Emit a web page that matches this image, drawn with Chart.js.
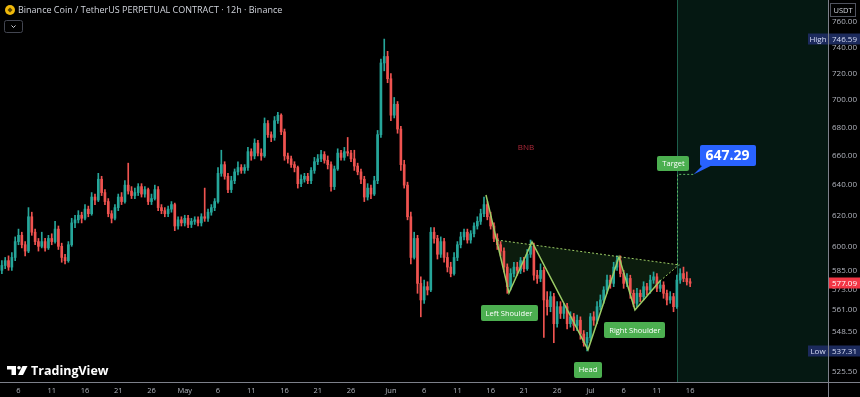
<!DOCTYPE html>
<html>
<head>
<meta charset="utf-8">
<script src="https://cdn.jsdelivr.net/npm/chart.js@4.4.1/dist/chart.umd.min.js"></script>
<style>
  html, body { margin: 0; padding: 0; background: #000; }
  canvas { display: block; }
</style>
</head>
<body>
<canvas id="chart" width="860" height="397"></canvas>
<script>
// BNB / USDT perpetual, 12h candles (3 Apr - 16 Jul)
var opens = [585,588,591,587,593,603,607,601,597,619,
  609,603,600,603,599,605,603,611,600,593,
  591,601,615,617,620,618,624,621,632,630,
  644,635,629,621,618,625,632,629,640,636,
  633,635,639,634,637,629,631,637,625,623,
  621,624,627,613,617,615,618,614,616,617,
  615,619,618,622,625,629,648,654,646,637,
  643,649,652,650,652,663,660,669,662,660,
  683,675,673,685,689,677,660,658,654,652,
  641,644,646,643,650,656,658,661,657,654,
  639,651,662,659,663,662,658,653,649,644,
  632,638,634,643,675,728,733,716,689,697,
  679,654,640,619,593,605,577,567,575,573,
  609,605,595,603,593,587,583,593,601,606,
  609,604,608,613,616,621,627,619,613,605,
  601,597,587,575,583,587,585,591,586,595,
  600,582,580,585,567,563,569,553,563,559,
  563,553,557,552,555,547,542,545,557,555,
  563,567,573,579,577,587,591,583,577,580,
  571,565,571,569,575,573,579,581,574,576,
  571,567,569,563,579,583,580,578];
var highs = [591,593,594,596,606,611,609,603,625,622,
  611,605,609,605,607,608,616,613,602,595,
  603,618,620,623,622,627,626,635,634,648,
  646,637,631,623,627,634,635,643,655,639,
  638,641,641,639,638,634,640,639,627,625,
  626,629,628,619,619,620,620,618,619,619,
  621,638,624,627,631,652,664,656,648,646,
  651,656,654,654,666,665,672,671,665,687,
  685,677,688,691,690,679,662,660,656,653,
  647,648,648,652,659,661,664,663,660,656,
  653,665,664,666,673,664,664,655,651,646,
  641,640,646,678,731,746.59,737,720,702,699,
  681,657,642,622,609,607,581,579,578,612,
  612,607,606,605,596,590,596,603,609,611,
  611,610,615,619,624,632,629,622,615,608,
  603,599,589,586,590,590,593,593,598,604,
  602,585,589,587,572,572,571,566,566,565,
  565,560,559,558,557,549,548,559,560,566,
  570,575,582,582,590,594,594,585,583,582,
  573,574,573,578,577,582,584,583,579,578,
  573,572,571,582,586,587,584,580];
var lows = [583,586,585,585,591,601,599,594,596,607,
  601,597,599,597,598,601,602,598,590,589,
  590,600,612,615,615,617,619,620,627,629,
  633,627,619,615,617,623,627,628,634,631,
  631,633,632,632,627,627,630,623,621,619,
  619,622,610,611,613,613,612,612,614,613,
  613,616,616,620,623,628,646,644,635,635,
  641,647,648,648,650,657,658,660,657,659,
  673,670,671,683,675,657,655,652,649,638,
  639,642,641,641,648,654,656,655,651,636,
  637,650,657,657,660,656,650,647,641,629,
  630,631,633,641,673,722,713,685,687,676,
  650,638,617,589,592,571,557,565,570,572,
  602,592,593,590,584,581,582,591,599,604,
  602,602,606,611,614,619,617,611,603,598,
  594,584,571,573,581,582,583,584,585,593,
  579,577,578,545,558,560,542,551,556,556,
  550,551,549,549,544,540,537.31,543,552,553,
  561,565,571,574,575,585,581,574,575,568,
  563,563,566,567,570,571,577,572,572,568,
  564,565,560,562,577,578,576,575];
var closes = [588,591,587,593,603,607,601,597,619,609,
  603,600,603,599,605,603,611,600,593,591,
  601,615,617,620,618,624,621,632,630,644,
  635,629,621,618,625,632,629,640,636,633,
  635,639,634,637,629,631,637,625,623,621,
  624,627,613,617,615,618,614,616,617,615,
  619,618,622,625,629,648,654,646,637,643,
  649,652,650,652,663,660,669,662,660,683,
  675,673,685,689,677,660,658,654,652,641,
  644,646,643,650,656,658,661,657,654,639,
  651,662,659,663,662,658,653,649,644,632,
  638,634,643,675,728,733,716,689,697,679,
  654,640,619,593,605,577,567,575,573,609,
  605,595,603,593,587,583,593,601,606,609,
  604,608,613,616,621,627,619,613,605,601,
  597,587,575,583,587,585,591,586,595,600,
  582,580,585,567,563,569,553,563,559,563,
  553,557,552,555,547,542,545,557,555,563,
  567,573,579,577,587,591,583,577,580,571,
  565,571,569,575,573,579,581,574,576,571,
  567,569,563,579,583,580,578,577.09];

// time axis is in days since 1 Apr; one candle every 12h
var firstCandleDay = 2.5;
var candleDays = closes.map(function (c, i) { return firstCandleDay + i * 0.5; });

var tickDays = [5, 10, 15, 20, 25, 30, 35, 40, 45, 50, 55, 61, 66, 71, 76, 81, 86, 91, 96, 101, 106];
var tickLabels = ['6', '11', '16', '21', '26', 'May', '6', '11', '16', '21', '26', 'Jun', '6', '11', '16', '21', '26', 'Jul', '6', '11', '16'];
var priceTicks = [525.5, 537, 548.5, 561, 573, 585, 600, 620, 640, 660, 680, 700, 720, 740, 760];

// inverse head & shoulders drawing
var patternDays = [75.3, 78.76, 82.22, 90.64, 95.3, 97.7, 101.46];
var patternPrices = [633.4, 571.2, 602.8, 538, 593.3, 561, 578.4];
var patternTailDays = [101.46, 104.3];
var patternTailPrices = [578.4, 588.3];
var necklineDays = [76.95, 104.45];
var necklinePrices = [604, 588.3];
var shoulderLabels = ['Left Shoulder', 'Head', 'Right Shoulder'];
var shoulderPoints = [1, 3, 5];

var targetDay = 104.1;
var targetPrice = 647.29;
var targetLineDays = [104.1, 104.1, 106.58];
var targetLinePrices = [588.5, 647.29, 647.29];
var futureStartDay = 104.0;

var upColor = '#26a69a';
var downColor = '#ef5350';
var lineGreen = '#9ccc65';
var tagGreen = '#4caf50';
var font = "'Open Sans', sans-serif";

var candleColors = closes.map(function (c, i) { return c >= opens[i] ? upColor : downColor; });
var bodies = closes.map(function (c, i) { return { x: candleDays[i], y: [opens[i], c] }; });
var wicks = closes.map(function (c, i) { return { x: candleDays[i], y: [lows[i], highs[i]] }; });

function toPoints(xs, ys) {
  return xs.map(function (v, i) { return { x: v, y: ys[i] }; });
}

function roundRect(ctx, x, y, w, h, r) {
  ctx.beginPath();
  ctx.moveTo(x + r, y);
  ctx.arcTo(x + w, y, x + w, y + h, r);
  ctx.arcTo(x + w, y + h, x, y + h, r);
  ctx.arcTo(x, y + h, x, y, r);
  ctx.arcTo(x, y, x + w, y, r);
  ctx.closePath();
}

function tag(ctx, text, cx, cy, bg, fg, size, bold, padX, h) {
  ctx.font = (bold ? 'bold ' : '') + size + 'px ' + font;
  var w = ctx.measureText(text).width + padX * 2;
  roundRect(ctx, Math.round(cx - w / 2), Math.round(cy - h / 2), Math.round(w), h, 2);
  ctx.fillStyle = bg;
  ctx.fill();
  ctx.fillStyle = fg;
  ctx.textAlign = 'center';
  ctx.textBaseline = 'middle';
  ctx.fillText(text, cx, cy + 0.5);
}

var drawings = {
  id: 'drawings',
  beforeDraw: function (chart) {
    var ctx = chart.ctx, a = chart.chartArea;
    ctx.save();
    ctx.fillStyle = '#000';
    ctx.fillRect(0, 0, chart.width, chart.height);
    // projected area after the breakout
    var fx = Math.round(chart.scales.x.getPixelForValue(futureStartDay));
    ctx.fillStyle = '#051812';
    ctx.fillRect(fx, a.top, a.right - fx, a.bottom - a.top);
    ctx.fillStyle = '#1d5e4b';
    ctx.fillRect(fx, a.top, 1, a.bottom - a.top);
    ctx.restore();
  },
  beforeDatasetsDraw: function (chart) {
    var ctx = chart.ctx, sx = chart.scales.x, sy = chart.scales.y;
    ctx.save();
    ctx.beginPath();
    ctx.moveTo(sx.getPixelForValue(necklineDays[0]), sy.getPixelForValue(necklinePrices[0]));
    for (var i = 1; i < patternDays.length; i++) {
      ctx.lineTo(sx.getPixelForValue(patternDays[i]), sy.getPixelForValue(patternPrices[i]));
    }
    ctx.lineTo(sx.getPixelForValue(patternTailDays[1]), sy.getPixelForValue(patternTailPrices[1]));
    ctx.lineTo(sx.getPixelForValue(necklineDays[1]), sy.getPixelForValue(necklinePrices[1]));
    ctx.closePath();
    ctx.fillStyle = 'rgba(76, 175, 80, 0.16)';
    ctx.fill();
    ctx.restore();
  },
  afterDraw: function (chart) {
    var ctx = chart.ctx, a = chart.chartArea, sx = chart.scales.x, sy = chart.scales.y;
    ctx.save();

    // axis separators
    ctx.fillStyle = '#7d808a';
    ctx.fillRect(0, a.bottom, chart.width, 1);
    ctx.fillRect(a.right, 0, 1, chart.height);

    // shoulder / head tags
    shoulderPoints.forEach(function (k, i) {
      var x = sx.getPixelForValue(patternDays[k]);
      var y = sy.getPixelForValue(patternPrices[k]);
      tag(ctx, shoulderLabels[i], x, y + 20, tagGreen, '#fff', 7.5, false, 5, 16);
    });

    // target
    var tx = sx.getPixelForValue(targetDay), ty = sy.getPixelForValue(targetPrice);
    tag(ctx, 'Target', tx - 4, ty - 11, tagGreen, '#fff', 7.5, false, 5, 15);
    ctx.fillStyle = '#2962ff';
    roundRect(ctx, Math.round(tx + 22), Math.round(ty - 29), 56, 21, 2);
    ctx.fill();
    ctx.beginPath();
    ctx.moveTo(tx + 25, ty - 9);
    ctx.lineTo(tx + 34, ty - 9);
    ctx.lineTo(tx + 16, ty);
    ctx.closePath();
    ctx.fill();
    ctx.fillStyle = '#fff';
    ctx.font = 'bold 14px ' + font;
    ctx.textAlign = 'center';
    ctx.textBaseline = 'middle';
    ctx.fillText(targetPrice.toFixed(2), tx + 50, ty - 18);

    // symbol watermark
    ctx.fillStyle = '#b0293a';
    ctx.font = '8px ' + font;
    ctx.fillText('BNB', sx.getPixelForValue(81.3), sy.getPixelForValue(665.5));

    // price scale badges
    var hi = Math.max.apply(null, highs), lo = Math.min.apply(null, lows);
    var last = closes[closes.length - 1];
    function badge(val, bg, fg, name) {
      var y = Math.round(sy.getPixelForValue(val));
      ctx.fillStyle = bg;
      ctx.fillRect(a.right + 1, y - 5.5, chart.width - a.right - 1, 11);
      if (name) ctx.fillRect(a.right - 20, y - 5.5, 20, 11);
      ctx.fillStyle = fg;
      ctx.font = '8px ' + font;
      ctx.textAlign = 'left';
      ctx.fillText(val.toFixed(2), a.right + 4, y + 0.5);
      if (name) {
        ctx.textAlign = 'center';
        ctx.fillText(name, a.right - 10, y + 0.5);
      }
    }
    badge(hi, '#1c2a5c', '#d6dcf5', 'High');
    badge(lo, '#1c2a5c', '#d6dcf5', 'Low');
    badge(last, '#f23645', '#fff', null);

    // currency box
    ctx.fillStyle = '#000';
    ctx.fillRect(a.right + 2, 3, 26, 14);
    ctx.strokeStyle = '#50535e';
    ctx.lineWidth = 1;
    ctx.strokeRect(a.right + 2.5, 3.5, 25, 13);
    ctx.fillStyle = '#d1d4dc';
    ctx.font = '7.5px ' + font;
    ctx.textAlign = 'center';
    ctx.fillText('USDT', a.right + 15, 10.5);

    // header
    ctx.fillStyle = '#f0b90b';
    ctx.beginPath();
    ctx.arc(10, 10, 5, 0, Math.PI * 2);
    ctx.fill();
    ctx.fillStyle = '#5a4500';
    ctx.beginPath();
    ctx.moveTo(10, 7.5); ctx.lineTo(12.5, 10); ctx.lineTo(10, 12.5); ctx.lineTo(7.5, 10);
    ctx.closePath();
    ctx.fill();
    ctx.fillStyle = '#d1d4dc';
    ctx.font = '9px ' + font;
    ctx.textAlign = 'left';
    ctx.fillText('Binance Coin / TetherUS PERPETUAL CONTRACT \u00b7 12h \u00b7 Binance', 18, 10.5);
    ctx.strokeStyle = '#434651';
    roundRect(ctx, 4.5, 20.5, 18, 12, 2);
    ctx.stroke();
    ctx.strokeStyle = '#d1d4dc';
    ctx.beginPath();
    ctx.moveTo(11.5, 25.5); ctx.lineTo(13.5, 27.5); ctx.lineTo(15.5, 25.5);
    ctx.stroke();

    // TradingView mark
    ctx.fillStyle = '#fff';
    ctx.fillRect(7, 366, 9, 3.5);
    ctx.fillRect(11.5, 366, 4.5, 9);
    ctx.beginPath();
    ctx.arc(19, 367.8, 1.8, 0, Math.PI * 2);
    ctx.fill();
    ctx.beginPath();
    ctx.moveTo(22.5, 366); ctx.lineTo(27.5, 366); ctx.lineTo(23, 375); ctx.lineTo(18, 375);
    ctx.closePath();
    ctx.fill();
    ctx.font = 'bold 12.5px ' + font;
    ctx.textAlign = 'left';
    ctx.fillText('TradingView', 31, 371);

    ctx.restore();
  }
};

new Chart(document.getElementById('chart'), {
  type: 'bar',
  data: {
    datasets: [
      {
        type: 'line', data: toPoints(patternDays, patternPrices),
        borderColor: lineGreen, borderWidth: 1.5, pointRadius: 0, tension: 0, fill: false, order: 0
      },
      {
        type: 'line', data: toPoints(patternTailDays, patternTailPrices),
        borderColor: lineGreen, borderWidth: 1, borderDash: [2, 2], pointRadius: 0, fill: false, order: 0
      },
      {
        type: 'line', data: toPoints(necklineDays, necklinePrices),
        borderColor: lineGreen, borderWidth: 1, borderDash: [2, 2], pointRadius: 0, fill: false, order: 0
      },
      {
        type: 'line', data: toPoints(targetLineDays, targetLinePrices),
        borderColor: '#5fb865', borderWidth: 1, borderDash: [2, 2], pointRadius: 0, fill: false, order: 0
      },
      {
        label: 'body', data: bodies, backgroundColor: candleColors,
        barThickness: 2, minBarLength: 1, grouped: false, order: 1
      },
      {
        label: 'wick', data: wicks, backgroundColor: candleColors,
        barThickness: 1, grouped: false, order: 2
      }
    ]
  },
  options: {
    responsive: false,
    animation: false,
    devicePixelRatio: 1,
    events: [],
    layout: { padding: 0 },
    plugins: { legend: { display: false }, tooltip: { enabled: false } },
    scales: {
      x: {
        type: 'linear', min: 2.218, max: 126.73, offset: false,
        grid: { display: false, drawTicks: false }, border: { display: false },
        ticks: {
          color: '#b2b5be', font: { size: 7.5, family: font }, padding: 4, autoSkip: false, maxRotation: 0,
          callback: function (v) { var k = tickDays.indexOf(v); return k < 0 ? '' : tickLabels[k]; }
        },
        afterBuildTicks: function (s) { s.ticks = tickDays.map(function (d) { return { value: d }; }); },
        afterFit: function (s) { s.height = 15; s.paddingLeft = 0; s.paddingRight = 0; }
      },
      y: {
        type: 'logarithmic', position: 'right', min: 520, max: 778, beginAtZero: false,
        grid: { display: false, drawTicks: false }, border: { display: false },
        ticks: {
          color: '#b2b5be', font: { size: 8, family: font }, padding: 4, autoSkip: false,
          callback: function (v) { return Number(v).toFixed(2); }
        },
        afterBuildTicks: function (s) { s.ticks = priceTicks.map(function (p) { return { value: p }; }); },
        afterFit: function (s) { s.width = 32; s.paddingTop = 0; s.paddingBottom = 0; }
      }
    }
  },
  plugins: [drawings]
});
</script>
</body>
</html>
